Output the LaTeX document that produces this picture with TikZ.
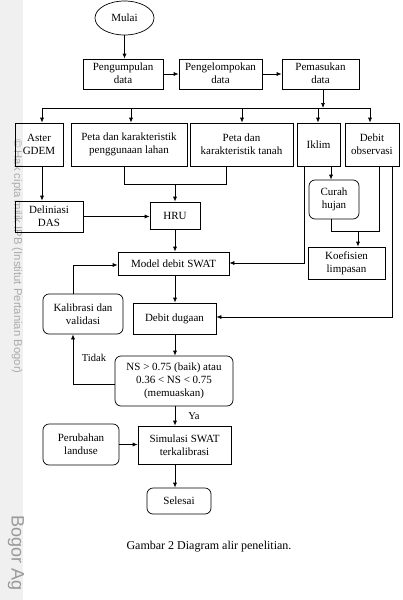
\documentclass[tikz,border=0pt]{standalone}
\usepackage{fontspec}
\setmainfont{Liberation Serif}
\newfontfamily\wmfont{Liberation Sans}
\usetikzlibrary{arrows.meta,shapes.geometric}
\newcommand\lowtwo[2]{\raisebox{-3pt}{\begin{tabular}{@{}c@{}}#1\\#2\end{tabular}}}
\begin{document}
\begin{tikzpicture}[x=1pt,y=-1pt,
  box/.style={draw,line width=0.7pt,inner sep=1pt,align=center,font=\fontsize{11}{13}\selectfont},
  rbox/.style={box,rounded corners=6pt},
  ln/.style={line width=0.7pt},
  arr/.style={line width=0.7pt,-{Latex[length=5pt,width=4pt]}},
  lbl/.style={font=\fontsize{10.5}{12}\selectfont,inner sep=0pt}]
\useasboundingbox (0,0) rectangle (403,600);
% watermark strip
\fill[black!6] (0,0) rectangle (23,600);
\node[rotate=-90,anchor=west,text=black!33,inner sep=0pt,font=\wmfont\fontsize{11.3}{13}\selectfont] (wm1) at (17,139) {\char"00A9\ Hak cipta milik IPB (Institut Pertanian Bogor)};
\node[rotate=-90,anchor=west,text=black!40,inner sep=0pt,font=\wmfont\fontsize{18}{20}\selectfont] (wm2) at (16,515) {Bogor Ag};
% nodes
\node[draw,ellipse,line width=0.7pt,minimum width=59,minimum height=34,inner sep=0pt,font=\fontsize{11}{13}\selectfont] (mulai) at (124.5,18) {Mulai};
\node[box,minimum width=80,minimum height=30] (pengum) at (123,74) {\lowtwo{Pengumpulan}{data}};
\node[box,minimum width=83,minimum height=30] (pengel) at (220.5,74) {\lowtwo{Pengelompokan}{data}};
\node[box,minimum width=77,minimum height=30] (pemas) at (320.5,74) {\lowtwo{Pemasukan}{data}};
\node[box,minimum width=48,minimum height=43] (aster) at (39,144.5) {Aster\\GDEM};
\node[box,minimum width=116,minimum height=43] (lahan) at (129,144.5) {Peta dan karakteristik\\penggunaan lahan};
\node[box,minimum width=103,minimum height=43] (tanah) at (241.5,144.5) {Peta dan\\karakteristik tanah};
\node[box,minimum width=43,minimum height=43] (iklim) at (318.5,144.5) {Iklim};
\node[box,minimum width=54,minimum height=43] (debobs) at (372,144.5) {Debit\\observasi};
\node[box,minimum width=68,minimum height=31] (delin) at (49,216.5) {Deliniasi\\DAS};
\node[box,minimum width=50,minimum height=27] (hru) at (175,215.5) {HRU};
\node[rbox,minimum width=50,minimum height=39] (curah) at (334,199.5) {Curah\\hujan};
\node[box,minimum width=77,minimum height=32] (koef) at (346.5,263) {Koefisien\\limpasan};
\node[box,minimum width=111,minimum height=23] (model) at (173.5,263.5) {Model debit SWAT};
\node[rbox,minimum width=80,minimum height=40] (kalib) at (83,314) {Kalibrasi dan\\validasi};
\node[box,minimum width=83,minimum height=31] (dugaan) at (174.5,318.5) {Debit dugaan};
\node[rbox,minimum width=118,minimum height=50] (ns) at (174,381) {NS > 0.75 (baik) atau\\0.36 < NS < 0.75\\(memuaskan)};
\node[box,minimum width=93,minimum height=38] (sim) at (184.5,445) {Simulasi SWAT\\terkalibrasi};
\node[rbox,minimum width=76,minimum height=41] (perub) at (81,444.5) {Perubahan\\landuse};
\node[rbox,minimum width=64,minimum height=26] (selesai) at (179,501) {Selesai};
\node[inner sep=0pt,font=\fontsize{12}{14}\selectfont] (cap) at (209,547) {Gambar 2 Diagram alir penelitian.};
\node[lbl] (tidak) at (94,358) {Tidak};
\node[lbl] (ya) at (194,416) {Ya};
% coordinates
\coordinate (bj) at (323,108);
\coordinate (b1) at (42,108);
\coordinate (b2) at (131,108);
\coordinate (b3) at (242,108);
\coordinate (b4) at (318,108);
\coordinate (b5) at (370,108);
\coordinate (j1) at (124,184);
\coordinate (j2) at (226,184);
\coordinate (ik) at (304,263);
\coordinate (cx) at (331,180);
\coordinate (c1) at (331,231);
\coordinate (c2) at (379,231);
\coordinate (c3) at (358,231);
\coordinate (dx) at (392,317);
\coordinate (kx) at (73,265);
\coordinate (tx) at (73,384);
\coordinate (vx) at (175,0);
% connectors
\draw[arr] (mulai.south) -- (mulai.south |- pengum.north);
\draw[arr] (pengum.east) -- (pengel.west);
\draw[arr] (pengel.east) -- (pemas.west);
\draw[arr] (bj |- pemas.south) -- (bj);
\draw[ln] (b1) -- (b5);
\draw[arr] (b1) -- (b1 |- aster.north);
\draw[arr] (b2) -- (b2 |- lahan.north);
\draw[arr] (b3) -- (b3 |- tanah.north);
\draw[arr] (b4) -- (b4 |- iklim.north);
\draw[arr] (b5) -- (b5 |- debobs.north);
\draw[arr] (b1 |- aster.south) -- (b1 |- delin.north);
\draw[ln] (j1 |- lahan.south) -- (j1) -- (j2) -- (j2 |- tanah.south);
\draw[arr] (vx |- j1) -- (vx |- hru.north);
\draw[arr] (delin.east) -- (delin.east -| hru.west);
\draw[arr] (vx |- hru.south) -- (vx |- model.north);
\draw[arr] (ik |- iklim.south) -- (ik) -- (ik -| model.east);
\draw[arr] (cx |- iklim.south) -- (cx |- curah.north);
\draw[ln] (cx |- curah.south) -- (c1) -- (c2) -- (c2 |- debobs.south);
\draw[arr] (c3) -- (c3 |- koef.north);
\draw[arr] (dx |- debobs.south) -- (dx) -- (dx -| dugaan.east);
\draw[arr] (vx |- model.south) -- (vx |- dugaan.north);
\draw[arr] (kx |- kalib.north) -- (kx) -- (kx -| model.west);
\draw[arr] (vx |- dugaan.south) -- (vx |- ns.north);
\draw[arr] (tx -| ns.west) -- (tx) -- (tx |- kalib.south);
\draw[arr] (vx |- ns.south) -- (vx |- sim.north);
\draw[arr] (perub.east) -- (perub.east -| sim.west);
\draw[arr] (vx |- sim.south) -- (vx |- selesai.north);
\end{tikzpicture}
\end{document}
